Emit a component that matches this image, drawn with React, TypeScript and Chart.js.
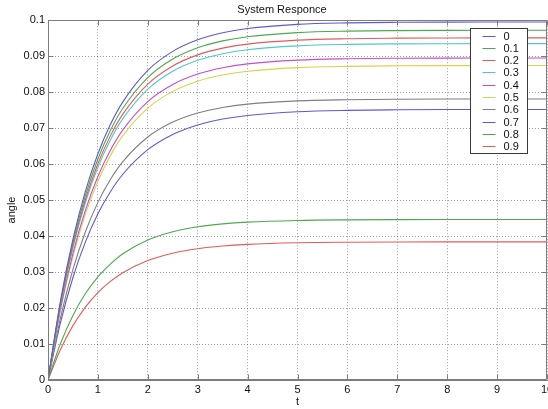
import React, { useEffect, useRef } from "react";
import { Chart, registerables } from "chart.js";

Chart.register(...registerables);

const TITLE = "System Responce";
const X_LABEL = "t";
const Y_LABEL = "angle";

const TIMES = [0, 0.25, 0.5, 0.75, 1, 1.25, 1.5, 2, 2.5, 3, 3.5, 4, 5, 6, 7, 8, 9, 10];

const SERIES_LABELS = ["0", "0.1", "0.2", "0.3", "0.4", "0.5", "0.6", "0.7", "0.8", "0.9"];

const S_00 = [0, 0.02201, 0.03915, 0.0525, 0.06289, 0.07099, 0.0773, 0.08604, 0.09133, 0.09454, 0.0965, 0.09768, 0.09883, 0.09925, 0.09941, 0.09947, 0.09949, 0.0995];
const S_01 = [0, 0.0215, 0.03825, 0.05128, 0.06144, 0.06935, 0.07551, 0.08405, 0.08922, 0.09236, 0.09426, 0.09542, 0.09655, 0.09696, 0.09711, 0.09717, 0.09719, 0.0972];
const S_02 = [0, 0.02104, 0.03742, 0.05017, 0.06011, 0.06785, 0.07388, 0.08223, 0.08729, 0.09036, 0.09223, 0.09336, 0.09446, 0.09486, 0.09501, 0.09507, 0.09509, 0.0951];
const S_03 = [0, 0.02068, 0.03679, 0.04933, 0.0591, 0.06671, 0.07264, 0.08085, 0.08582, 0.08884, 0.09068, 0.09179, 0.09287, 0.09327, 0.09342, 0.09347, 0.09349, 0.0935];
const S_04 = [0, 0.0198, 0.03522, 0.04722, 0.05657, 0.06386, 0.06953, 0.07739, 0.08215, 0.08504, 0.0868, 0.08786, 0.0889, 0.08928, 0.08942, 0.08947, 0.08949, 0.0895];
const S_05 = [0, 0.01933, 0.03439, 0.04611, 0.05525, 0.06236, 0.0679, 0.07557, 0.08022, 0.08305, 0.08476, 0.0858, 0.08681, 0.08718, 0.08732, 0.08737, 0.08739, 0.0874];
const S_06 = [0, 0.01728, 0.03073, 0.04121, 0.04937, 0.05572, 0.06068, 0.06753, 0.07168, 0.07421, 0.07574, 0.07667, 0.07758, 0.0779, 0.07803, 0.07808, 0.07809, 0.0781];
const S_07 = [0, 0.01594, 0.02849, 0.03838, 0.04619, 0.05232, 0.05718, 0.06401, 0.06824, 0.07088, 0.07252, 0.07353, 0.07455, 0.07495, 0.0751, 0.07516, 0.07518, 0.0752];
const S_08 = [0, 0.01013, 0.01796, 0.02402, 0.02869, 0.03223, 0.0351, 0.03893, 0.04121, 0.04258, 0.04339, 0.04388, 0.04434, 0.04451, 0.04457, 0.04459, 0.0446, 0.0446];
const S_09 = [0, 0.00849, 0.01511, 0.02026, 0.02427, 0.0274, 0.02983, 0.0332, 0.03525, 0.03649, 0.03724, 0.0377, 0.03814, 0.0383, 0.03837, 0.03839, 0.0384, 0.0384];

const SERIES = [S_00, S_01, S_02, S_03, S_04, S_05, S_06, S_07, S_08, S_09];

const COLORS = [
  "#5a5ad8",
  "#4fa84f",
  "#e45a5a",
  "#4ccaca",
  "#c64ecb",
  "#d8d24c",
  "#7e7e7e",
  "#5a5ad8",
  "#4fa84f",
  "#e45a5a",
];

const X_MIN = 0;
const X_MAX = 10;
const X_STEP = 1;
const Y_MIN = 0;
const Y_MAX = 0.1;
const Y_STEP = 0.01;

const FONT = "'Liberation Sans', Arial, Helvetica, sans-serif";

const decorPlugin = {
  id: "decor",
  afterLayout(chart: any) {
    const t = chart.titleBlock;
    if (t) {
      t.left = 16;
      t.right = chart.width;
    }
  },
  afterDatasetsDraw(chart: any) {
    const ctx: CanvasRenderingContext2D = chart.ctx;
    const ca = chart.chartArea;
    const L = Math.round(ca.left) + 0.5;
    const R = Math.round(ca.right) - 0.5;
    const T = Math.round(ca.top) + 0.5;
    const B = Math.round(ca.bottom) - 0.5;
    ctx.save();
    ctx.strokeStyle = "#7c7c7c";
    ctx.lineWidth = 1;
    ctx.setLineDash([]);
    ctx.beginPath();
    ctx.rect(L, T, R - L, B - T);
    ctx.stroke();
    const xs = chart.scales.x;
    const ys = chart.scales.y;
    const tl = 5;
    ctx.beginPath();
    xs.ticks.forEach((tk: any) => {
      const px = Math.round(xs.getPixelForValue(tk.value)) + 0.5;
      ctx.moveTo(px, T);
      ctx.lineTo(px, T + tl);
      ctx.moveTo(px, B);
      ctx.lineTo(px, B - tl);
    });
    ys.ticks.forEach((tk: any) => {
      const py = Math.round(ys.getPixelForValue(tk.value)) + 0.5;
      ctx.moveTo(L, py);
      ctx.lineTo(L + tl, py);
      ctx.moveTo(R, py);
      ctx.lineTo(R - tl, py);
    });
    ctx.stroke();

    const lx = Math.round(ca.right) - 77 + 0.5;
    const ly = Math.round(ca.top) + 8 + 0.5;
    const lw = 57;
    const lh = 125;
    ctx.fillStyle = "#ffffff";
    ctx.fillRect(lx, ly, lw, lh);
    ctx.strokeStyle = "#3a3a3a";
    ctx.strokeRect(lx, ly, lw, lh);
    ctx.font = "11px " + FONT;
    ctx.textAlign = "left";
    ctx.textBaseline = "middle";
    const ds = chart.data.datasets;
    const rowH = 12.3;
    ds.forEach((d: any, i: number) => {
      const cy = Math.round(ly + 7 + i * rowH) + 0.5;
      ctx.strokeStyle = d.borderColor;
      ctx.lineWidth = 1;
      ctx.beginPath();
      ctx.moveTo(lx + 12, cy);
      ctx.lineTo(lx + 25, cy);
      ctx.stroke();
      ctx.fillStyle = "#111111";
      ctx.fillText(d.label, lx + 33, cy);
    });

    ctx.save();
    ctx.translate(12, 210);
    ctx.rotate(-Math.PI / 2);
    ctx.textAlign = "center";
    ctx.textBaseline = "middle";
    ctx.fillStyle = "#111111";
    ctx.font = "11px " + FONT;
    ctx.fillText(Y_LABEL, 0, 0);
    ctx.restore();

    ctx.restore();
  },
};

export default function App() {
  const ref = useRef<HTMLCanvasElement | null>(null);

  useEffect(() => {
    if (!ref.current) return;
    const datasets = SERIES.map((vals, i) => ({
      label: SERIES_LABELS[i],
      data: TIMES.map((t, j) => ({ x: t, y: vals[j] })),
      borderColor: COLORS[i],
      backgroundColor: COLORS[i],
      borderWidth: 1.1,
      pointRadius: 0,
      fill: false,
      cubicInterpolationMode: "monotone" as const,
    }));

    const chart = new Chart(ref.current, {
      type: "line",
      data: { datasets },
      plugins: [decorPlugin],
      options: {
        animation: false,
        responsive: false,
        events: [],
        layout: { padding: { left: 0, right: 1, top: 0, bottom: 0 } },
        plugins: {
          legend: { display: false },
          tooltip: { enabled: false },
          title: {
            display: true,
            text: TITLE,
            color: "#111111",
            font: { family: FONT, size: 11, weight: "normal" },
            padding: { top: 3, bottom: 4 },
          },
        },
        scales: {
          x: {
            type: "linear",
            min: X_MIN,
            max: X_MAX,
            afterFit: (s: any) => {
              s.height = 29;
              s.paddingLeft = 0;
              s.paddingRight = 0;
            },
            ticks: {
              stepSize: X_STEP,
              color: "#111111",
              padding: 3,
              maxRotation: 0,
              autoSkip: false,
              font: { family: FONT, size: 11 },
              callback: (v: any) => String(v),
            },
            grid: { color: "rgba(0,0,0,0.38)", drawTicks: false, lineWidth: 1 },
            border: { display: true, color: "#7c7c7c", dash: [1, 2] },
            title: {
              display: true,
              text: X_LABEL,
              color: "#111111",
              font: { family: FONT, size: 11 },
              padding: 0,
            },
          },
          y: {
            type: "linear",
            min: Y_MIN,
            max: Y_MAX,
            afterFit: (s: any) => {
              s.width = 48;
              s.paddingTop = 0;
              s.paddingBottom = 0;
            },
            ticks: {
              stepSize: Y_STEP,
              color: "#111111",
              padding: 3,
              autoSkip: false,
              font: { family: FONT, size: 11 },
              callback: (v: any) => String(+Number(v).toFixed(2)),
            },
            grid: { color: "rgba(0,0,0,0.38)", drawTicks: false, lineWidth: 1 },
            border: { display: true, color: "#7c7c7c", dash: [1, 2] },
          },
        },
      },
    });
    return () => chart.destroy();
  }, []);

  return (
    <div style={{ position: "absolute", left: 0, top: 0, width: 548, height: 409, background: "#fff" }}>
      <canvas ref={ref} width={548} height={409} style={{ display: "block" }} />
    </div>
  );
}
